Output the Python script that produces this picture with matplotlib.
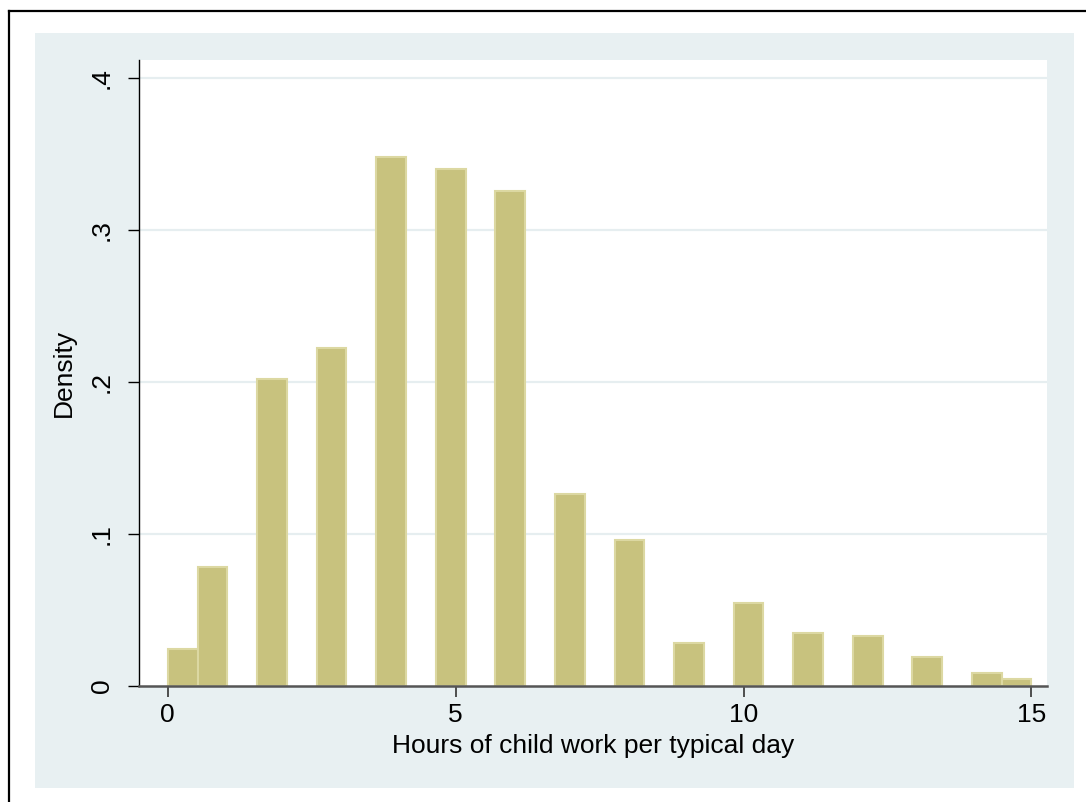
import numpy as np
import matplotlib
matplotlib.use("Agg")
import matplotlib.pyplot as plt
from matplotlib.patches import Rectangle

# ---- data ----
bin_width = 15 / 29
bin_index = [0, 1, 3, 5, 7, 9, 11, 13, 15, 17, 19, 21, 23, 25, 27, 28]
density = [0.0245, 0.0785, 0.202, 0.222, 0.3475, 0.340, 0.3255, 0.1265,
           0.0962, 0.0283, 0.0548, 0.0351, 0.0329, 0.0189, 0.0088, 0.0048]
xticks = [0, 5, 10, 15]
yticks = [0, 0.1, 0.2, 0.3, 0.4]
ytick_labels = ["0", ".1", ".2", ".3", ".4"]
xlabel = "Hours of child work per typical day"
ylabel = "Density"

plt.rcParams['font.family'] = ['Liberation Sans', 'DejaVu Sans']

W, H = 1086, 802
fig = plt.figure(figsize=(W / 100, H / 100), dpi=100)
fig.patch.set_facecolor("white")

bg = "#e8f0f2"
# outer light background panel
fig.add_artist(Rectangle((35 / W, 1 - 788 / H), (1074 - 35) / W, (788 - 33) / H,
                         transform=fig.transFigure, facecolor=bg, edgecolor="none", zorder=-10))
# black border (top and left)
fig.add_artist(plt.Line2D([9 / W, 1], [1 - 11 / H, 1 - 11 / H], transform=fig.transFigure,
                          color="black", lw=1.6, zorder=-5))
fig.add_artist(plt.Line2D([9 / W, 9 / W], [0, 1 - 11 / H], transform=fig.transFigure,
                          color="black", lw=1.6, zorder=-5))

ax = fig.add_axes([139 / W, 1 - 686 / H, (1047 - 139) / W, (686 - 60) / H])
ax.set_zorder(5)
ax.set_facecolor("white")
ax.set_xlim(-0.50, 15.27)
ax.set_ylim(0, 0.4116)

for y in yticks[1:]:
    ax.axhline(y, color="#e6eef0", lw=1.6, zorder=1)

lefts = [i * bin_width for i in bin_index]
ax.bar(lefts, density, width=bin_width, align="edge", color="#c8c27e",
       edgecolor="#dcd8a2", linewidth=1.5, zorder=2)

for s in ["top", "right"]:
    ax.spines[s].set_visible(False)
ax.spines["left"].set_color("black")
ax.spines["left"].set_linewidth(1.0)
ax.spines["bottom"].set_color("#555555")
ax.spines["bottom"].set_linewidth(1.8)

ax.set_xticks(xticks)
ax.set_xticklabels([str(t) for t in xticks])
ax.set_yticks(yticks)
ax.set_yticklabels(ytick_labels, rotation=90, va="center")
ax.tick_params(axis="x", length=8, width=1.2, color="#333333", labelsize=19, pad=4)
ax.tick_params(axis="y", length=8, width=1.0, color="black", labelsize=19, pad=10)

ax.set_xlabel(xlabel, fontsize=19, labelpad=5)
ax.set_ylabel(ylabel, fontsize=19, labelpad=10)

fig.savefig("out.png", dpi=100, facecolor="white")
